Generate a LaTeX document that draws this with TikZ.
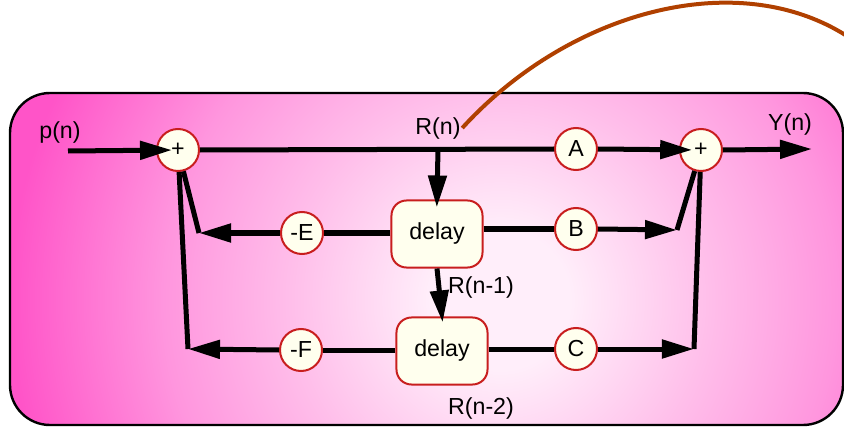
\documentclass[tikz,border=0pt]{standalone}
\usepackage{fontspec}
\setmainfont{Liberation Sans}
\usepackage{xcolor}
\usepackage{tikz}
\usetikzlibrary{arrows.meta,positioning}
\definecolor{opred}{RGB}{200,30,30}
\definecolor{opfill}{RGB}{255,255,238}
\definecolor{curvebrown}{RGB}{176,64,0}
\definecolor{pinkcore}{RGB}{255,238,250}
\definecolor{pinklight}{RGB}{255,190,234}
\definecolor{pinkmid}{RGB}{255,150,222}
\definecolor{pinkdeep}{RGB}{255,84,200}
\pgfdeclareradialshading{pinkglow}{\pgfpoint{0bp}{0bp}}{color(0bp)=(pinkcore); color(2.5bp)=(pinkcore); color(7.5bp)=(pinklight); color(12bp)=(pinkmid); color(17.5bp)=(pinkdeep); color(50bp)=(pinkdeep)}
\newcommand{\diagfont}{\fontsize{16.5}{18}\selectfont}

\begin{document}
\begin{tikzpicture}[
    x=0.025cm, y=-0.025cm,
    op/.style={circle, draw=opred, line width=0.05cm, fill=opfill,
                minimum size=1.05cm, inner sep=0pt, font=\diagfont},
    delaybox/.style={rectangle, rounded corners=0.375cm, draw=opred, line width=0.05cm, fill=opfill,
                minimum width=2.275cm, minimum height=1.675cm, inner sep=0pt, font=\diagfont},
    lbl/.style={inner sep=1pt, font=\diagfont},
    wire/.style={line width=0.125cm},
    arr/.style={wire, -{Triangle[length=0.8cm, width=0.45cm]}}]
\useasboundingbox (0,0) rectangle (844,433);
% background panel
\begin{scope}
\clip[rounded corners=1cm] (10,93) rectangle (843,425);
\shade[shading=pinkglow] (500,300) circle (700);
\end{scope}
\draw[line width=0.06cm, rounded corners=1cm] (10,93) rectangle (843,425);

\node[op] (add1) at (178,150) {+};
\node[op] (add2) at (701,150) {+};
\node[op] (gA) at (576,149) {A};
\node[delaybox] (d1) at (437,234) {delay};
\node[op] (gE) at (302,233) {-E};
\node[op] (gB) at (576,229) {B};
\node[delaybox] (d2) at (442,351) {delay};
\node[op] (gF) at (301,350) {-F};
\node[op] (gC) at (576,349) {C};

\node[lbl] (pn) at (60,133) {p(n)};
\node[lbl] (rn) at (438,128) {R(n)};
\node[lbl] (yn) at (790,124) {Y(n)};
\node[lbl] (rn1) at (481,287) {R(n-1)};
\node[lbl] (rn2) at (481,408) {R(n-2)};

\coordinate (pin) at (68,151);
\coordinate (yend) at (812,149);
\coordinate (rsplit) at (438,149);
\coordinate (eTip) at (199,233);
\coordinate (fTip) at (188,349);
\coordinate (bTip) at (677,230);
\coordinate (cTip) at (694,349);
\coordinate (farEnd) at (850,38);

\draw[arr, shorten >=0.15cm] (pin) -- (add1.center);
\draw[wire] (add1.east) -- (gA.west);
\draw[arr, shorten >=0.22cm] (gA.east) -- (add2.center);
\draw[arr] (add2.east) -- (yend);
\draw[arr, shorten >=-0.2cm] (rsplit) -- (d1.north);
\draw[arr, shorten >=-0.15cm] (d1.south) -- (d2.north);
\draw[wire] (gE.east -| d1.west) -- (gE.east); \draw[arr] (gE.west) -- (eTip); \draw[wire] (eTip) -- (add1);
\draw[wire] (gB.west -| d1.east) -- (gB.west); \draw[arr] (gB.east) -- (bTip); \draw[wire] (bTip) -- (add2);
\draw[wire] (gF.east -| d2.west) -- (gF.east); \draw[arr] (gF.west) -- (fTip); \draw[wire] (fTip) -- (add1);
\draw[wire] (gC.west -| d2.east) -- (gC.west); \draw[arr] (gC.east) -- (cTip); \draw[wire] (cTip) -- (add2);
\draw[curvebrown, line width=0.1cm] (rn.east) .. controls (570,10) and (740,-35) .. (farEnd);
\end{tikzpicture}
\end{document}
